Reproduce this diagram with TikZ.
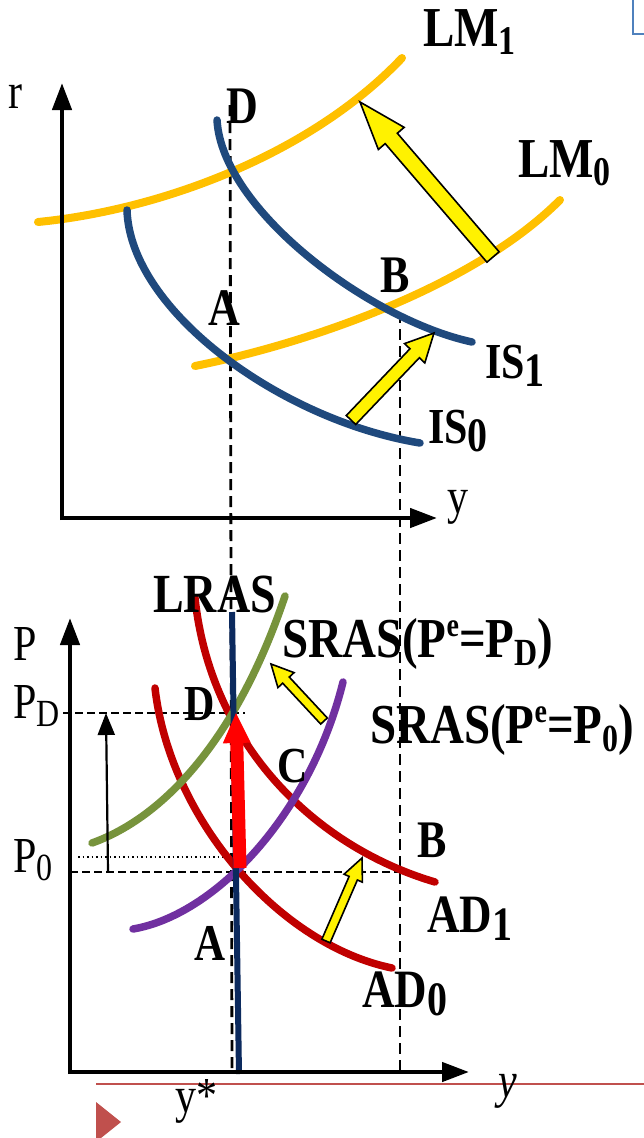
\documentclass[tikz,border=0pt]{standalone}
\usepackage{fontspec}
\setmainfont{Liberation Serif}
\usepackage{graphicx}
\usetikzlibrary{calc,arrows.meta}
\definecolor{lmcol}{HTML}{FFC000}
\definecolor{iscol}{HTML}{1F497D}
\definecolor{lrascol}{HTML}{0C2A5E}
\definecolor{adcol}{HTML}{C00000}
\definecolor{purplecol}{HTML}{7030A0}
\definecolor{greencol}{HTML}{77933C}
\definecolor{slidered}{HTML}{C0504D}
\definecolor{slideblue}{HTML}{4F81BD}
\newcommand\vst[1]{\scalebox{1}[1.2]{#1}}
\newcommand\lsb[2]{\raisebox{-7pt}{\fontsize{#1}{#1}\selectfont #2}}
\newcommand\lsp[1]{\raisebox{17pt}{\fontsize{28}{28}\selectfont #1}}
\newcommand\blkarrow[6]{%
  \coordinate (#1-h) at ($(#2)!#5!(#1)$);
  \filldraw[#6] ($(#1)!#3!90:(#2)$) -- ($(#1-h)!#3!-90:(#1)$) -- ($(#1-h)!#4!-90:(#1)$) -- (#2) -- ($(#1-h)!#4!90:(#1)$) -- ($(#1-h)!#3!90:(#1)$) -- ($(#1)!#3!-90:(#2)$) -- cycle;}
\tikzset{
  blbl/.style={inner sep=0pt, anchor=base west, font=\fontsize{#1}{#1}\selectfont\bfseries},
  blbl/.default=44,
  rlbl/.style={inner sep=0pt, anchor=base west, font=\fontsize{42}{42}\selectfont},
  curve/.style={line width=7.5pt, line cap=round},
  dashln/.style={line width=2.8pt, dash pattern=on 11pt off 6pt},
  axisln/.style={line width=4.5pt, -{Triangle[length=27pt,width=19pt]}},
  yarrow/.style={fill=yellow, draw=black, line width=1.6pt, line join=miter},
  rarrow/.style={fill=red, draw=none},
}
\begin{document}
\begin{tikzpicture}[x=1pt,y=-1pt]
\useasboundingbox (0,0) rectangle (643,1138);
\fill[white] (0,0) rectangle (643,1138);

% slide decorations
\draw[slideblue, line width=2.5pt] (645,34) -- (633,34) -- (633,-3);
\coordinate (rl1) at (96,1084); \coordinate (rl2) at (645,1084);
\draw[slidered, line width=1.8pt] (rl1) -- (rl2);
\fill[slidered] (96,1102) -- (121,1122) -- (96,1142) -- cycle;

% dashed guide lines
\coordinate (dA1) at (230,105); \coordinate (dA2) at (232,1072);
\draw[dashln] (dA1) -- (dA2);
\coordinate (dB1) at (400,312); \coordinate (dB2) at (400,1072);
\draw[dashln] (dB1) -- (dB2);
\coordinate (hD1) at (63,713); \coordinate (hD2) at (245,713);
\draw[line width=1.8pt, dash pattern=on 8pt off 4pt] (hD1) -- (hD2);
\coordinate (h01) at (70,872); \coordinate (h02) at (400,872);
\draw[line width=1.8pt, dash pattern=on 8pt off 4pt] (h01) -- (h02);
\coordinate (hd1) at (78,857); \coordinate (hd2) at (232,857);
\draw[line width=1.3pt, dash pattern=on 1.5pt off 3pt] (hd1) -- (hd2);

% top panel curves
\draw[curve, lmcol, line width=8pt] (38,222) .. controls (160,210) and (310,155) .. (402,58);
\draw[curve, lmcol, line width=8pt] (195,366) .. controls (300,345) and (470,290) .. (560,200);
\draw[curve, iscol] (127,210) .. controls (130,310) and (280,420) .. (420,443);
\draw[curve, iscol] (217,120) .. controls (222,210) and (370,320) .. (472,342);

% bottom panel curves
\draw[curve, adcol] (155,688) .. controls (170,820) and (280,945) .. (392,968);
\draw[curve, adcol] (195,598) .. controls (210,740) and (310,845) .. (435,882);
\draw[curve, purplecol] (133,929) .. controls (215,915) and (310,815) .. (343,682);
\draw[curve, greencol] (92,843) .. controls (170,815) and (240,730) .. (285,596);
\coordinate (lr1) at (232,612); \coordinate (lr2) at (239,1074);
\draw[lrascol, line width=6pt] (lr1) -- (lr2);

% shift arrows
\coordinate (rat) at (240,868); \coordinate (rah) at (236,713);
\blkarrow{rat}{rah}{6.5pt}{14pt}{30pt}{rarrow}
\coordinate (ya1t) at (351,420); \coordinate (ya1h) at (434,333);
\blkarrow{ya1t}{ya1h}{6.5pt}{14pt}{28pt}{yarrow}
\coordinate (ya2t) at (493,257); \coordinate (ya2h) at (360,102);
\blkarrow{ya2t}{ya2h}{8pt}{17pt}{48pt}{yarrow}
\coordinate (ya3t) at (324,721); \coordinate (ya3h) at (271,664);
\blkarrow{ya3t}{ya3h}{4.5pt}{11pt}{22pt}{yarrow}
\coordinate (ya4t) at (326,941); \coordinate (ya4h) at (362,858);
\blkarrow{ya4t}{ya4h}{4.5pt}{10pt}{22pt}{yarrow}
\coordinate (pa1) at (108,872); \coordinate (pa2) at (106,713);
\draw[line width=2.2pt, -{Triangle[length=22pt,width=17pt]}] (pa1) -- (pa2);

% axes
\coordinate (o1) at (62,520); \coordinate (rt) at (62,83);
\coordinate (o1b) at (60,518); \coordinate (yt1) at (437,518);
\draw[axisln] (o1) -- (rt);
\draw[axisln] (o1b) -- (yt1);
\coordinate (o2) at (70,1074); \coordinate (pt) at (70,618);
\coordinate (o2b) at (68,1072); \coordinate (yt2) at (469,1072);
\draw[axisln] (o2) -- (pt);
\draw[axisln] (o2b) -- (yt2);

% labels top
\node[rlbl] (rlab) at (8,108) {\vst{r}};
\node[rlbl] (ylab1) at (447,513) {\vst{y}};
\node[blbl=47] (lm1) at (423,46) {\vst{LM\lsb{34}{1}}};
\node[blbl=47] (lm0) at (518,177) {\vst{LM\lsb{34}{0}}};
\node[blbl=44] (Dt) at (226,123) {\vst{D}};
\node[blbl=44] (At) at (208,325) {\vst{A}};
\node[blbl=44] (Bt) at (380,292) {\vst{B}};
\node[blbl=42] (is1) at (485,378) {\vst{IS\lsb{40}{1}}};
\node[blbl=42] (is0) at (428,443) {\vst{IS\lsb{40}{0}}};

% labels bottom
\node[rlbl] (Plab) at (13,660) {\vst{P}};
\node[rlbl] (PDlab) at (13,718) {\vst{P\lsb{32}{D}}};
\node[rlbl] (P0lab) at (13,872) {\vst{P\lsb{32}{0}}};
\node[blbl=46] (lras) at (153,612) {\vst{LRAS}};
\node[blbl=47] (srasd) at (282,657) {\vst{SRAS(P\lsp{e}=P\lsb{32}{D})}};
\node[blbl=47] (sras0) at (370,743) {\vst{SRAS(P\lsp{e}=P\lsb{32}{0})}};
\node[blbl=42] (Db) at (184,720) {\vst{D}};
\node[blbl=42] (Cb) at (277,782) {\vst{C}};
\node[blbl=44] (Bb) at (417,857) {\vst{B}};
\node[blbl=43] (Ab) at (194,960) {\vst{A}};
\node[blbl=45] (ad1) at (427,932) {\vst{AD\lsb{40}{1}}};
\node[blbl=45] (ad0) at (362,1007) {\vst{AD\lsb{40}{0}}};
\node[rlbl] (ystar) at (175,1112) {\vst{y*}};
\node[rlbl, font=\fontsize{42}{42}\selectfont\itshape] (ylab2) at (498,1097) {\vst{y}};
\end{tikzpicture}
\end{document}
